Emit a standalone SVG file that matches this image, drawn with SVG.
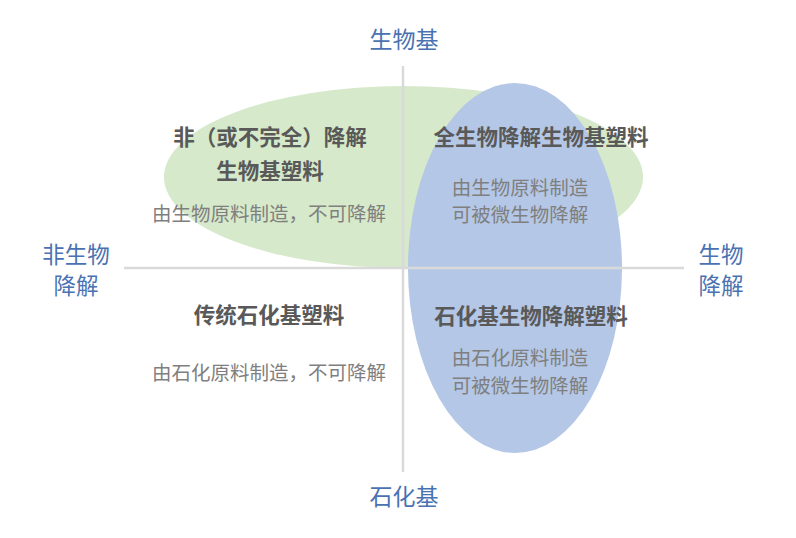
<svg xmlns="http://www.w3.org/2000/svg" width="796" height="538" viewBox="0 0 796 538">
<style>
text{font-family:"Noto Sans CJK SC","Noto Sans",sans-serif;text-anchor:middle}
.axis{fill:#4a72b2;font-size:23px}
.axs{fill:#4a72b2;font-size:22.5px}
.title{fill:#595959;font-size:21.5px;font-weight:bold}
.sub{fill:#7f7f7f;font-size:19.5px}
.ln{stroke:#d9d9d9;stroke-width:2.5;fill:none}
</style>
<rect width="796" height="538" fill="#ffffff"/>
<g id="bio-nondegradable-region">
<ellipse cx="403.5" cy="177" rx="239.5" ry="91" fill="#d6e9ca"/>
</g>
<g id="biodegradable-region">
<ellipse cx="515" cy="268" rx="107" ry="185" fill="#b4c7e7"/>
</g>
<g id="connectors">
<line class="ln" x1="403" y1="66" x2="403" y2="472"/>
<line class="ln" x1="124" y1="268" x2="684" y2="268"/>
</g>
<g id="axis-top"><text class="axis" x="404" y="48">生物基</text></g>
<g id="axis-bottom"><text class="axis" x="404" y="505">石化基</text></g>
<g id="axis-left"><text class="axs" x="76" y="263">非生物</text><text class="axs" x="76" y="294">降解</text></g>
<g id="axis-right"><text class="axs" x="721" y="263">生物</text><text class="axs" x="721" y="294">降解</text></g>
<g id="q-top-left">
<text class="title" x="270" y="145">非（或不完全）降解</text>
<text class="title" x="270" y="179">生物基塑料</text>
<text class="sub" x="269" y="221">由生物原料制造，不可降解</text>
</g>
<g id="q-top-right">
<text class="title" x="541" y="145">全生物降解生物基塑料</text>
<text class="sub" x="520" y="195">由生物原料制造</text>
<text class="sub" x="520" y="222">可被微生物降解</text>
</g>
<g id="q-bottom-left">
<text class="title" x="269" y="323">传统石化基塑料</text>
<text class="sub" x="269" y="380">由石化原料制造，不可降解</text>
</g>
<g id="q-bottom-right">
<text class="title" x="531" y="324">石化基生物降解塑料</text>
<text class="sub" x="520" y="365">由石化原料制造</text>
<text class="sub" x="520" y="393">可被微生物降解</text>
</g>
</svg>
